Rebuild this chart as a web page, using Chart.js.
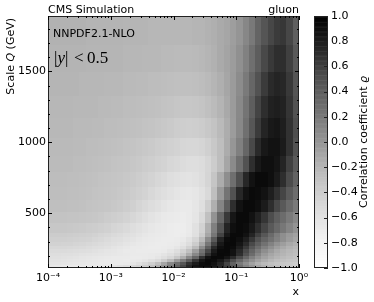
<!DOCTYPE html>
<html>
<head>
<meta charset="utf-8">
<script src="https://cdn.jsdelivr.net/npm/chart.js@4.4.1/dist/chart.umd.min.js"></script>
<style>
  html, body { margin: 0; padding: 0; background: #fff; }
</style>
</head>
<body>
<canvas id="myChart" width="374" height="302"></canvas>
<script>
// bin edges: log10(x) and scale Q in GeV
const logxEdges = [-4.0,-3.9,-3.8,-3.7,-3.6,-3.5,-3.4,-3.3,-3.2,-3.1,
                   -3.0,-2.9,-2.8,-2.7,-2.6,-2.5,-2.4,-2.3,-2.2,-2.1,
                   -2.0,-1.9,-1.8,-1.7,-1.6,-1.5,-1.4,-1.3,-1.2,-1.1,
                   -1.0,-0.9,-0.8,-0.7,-0.6,-0.5,-0.4,-0.3,-0.2,-0.1, 0.0];
const qEdges = [114,133,153,174,196,220,245,272,300,330,362,430,507,592,686,790,905,1032,1172,1327,1497,1684,1890];

// correlation coefficient x100, one row per Q bin (lowest Q first), one value per x bin
const rho = [
  [-65,-66,-67,-68,-68,-68,-68,-67,-66,-64, -62,-59,-55,-50,-46,-40,-30,-17,0,18, 36,56,74,88,92, 91,85,74,60,44, 28,12,0,-10,-18, -24,-29,-33,-36,-39],
  [-62,-62,-63,-64,-65,-66,-67,-67,-68,-68, -68,-68,-67,-64,-58,-50,-42,-28,-10,10, 28,48,68,82,91, 93,88,76,58,38, 20,5,-8,-17,-24, -29,-32,-35,-37,-39],
  [-60,-60,-61,-62,-63,-64,-65,-66,-67,-68, -69,-69,-70,-69,-67,-64,-59,-52,-40,-24, -4,18,42,66,85, 93,92,84,70,52, 34,17,4,-7,-15, -21,-26,-29,-32,-34],
  [-58,-58,-59,-60,-61,-63,-64,-65,-66,-67, -68,-69,-69,-70,-70,-69,-67,-63,-56,-48, -34,-15,10,35,68, 88,94,93,86,72, 54,34,16,2,-8, -15,-20,-24,-27,-30],
  [-55,-55,-56,-57,-58,-60,-61,-62,-63,-64, -65,-66,-67,-68,-68,-68,-67,-66,-62,-56, -48,-34,-15,10,35, 68,88,94,93,88, 70,50,30,12,-2, -10,-16,-20,-24,-27],
  [-52,-52,-52,-53,-54,-55,-57,-59,-61,-63, -64,-66,-68,-69,-70,-70,-70,-70,-68,-63, -55,-44,-28,-5,25, 56,82,93,94,88, 73,55,36,20,6, -4,-12,-18,-22,-25],
  [-48,-48,-48,-49,-50,-51,-53,-55,-57,-59, -62,-64,-66,-68,-69,-70,-71,-71,-70,-68, -64,-56,-44,-24,6, 40,72,90,94,92, 80,64,46,30,16, 5,-5,-12,-18,-22],
  [-44,-44,-45,-45,-46,-47,-49,-51,-53,-55, -58,-60,-63,-65,-67,-69,-70,-71,-71,-70, -68,-63,-54,-38,-12, 22,58,84,94,94, 86,72,55,40,26, 14,3,-5,-12,-17],
  [-41,-41,-41,-42,-43,-44,-45,-47,-49,-52, -55,-57,-60,-62,-65,-67,-69,-70,-71,-71, -70,-67,-60,-47,-24, 8,44,76,92,94, 90,80,65,50,36, 26,15,5,-4,-10],
  [-38,-38,-38,-39,-40,-41,-42,-44,-46,-48, -51,-53,-56,-59,-62,-65,-67,-69,-70,-71, -72,-71,-67,-58,-38, -10,22,58,84,93, 93,88,76,60,46, 32,18,6,-2,-7],
  [-34,-34,-34,-35,-36,-37,-38,-39,-41,-43, -46,-48,-51,-55,-59,-62,-65,-67,-69,-71, -72,-72,-68,-59,-44, -16,16,48,76,90, 93,91,83,70,57, 45,33,22,12,2],
  [-30,-30,-30,-31,-31,-32,-33,-34,-36,-38, -40,-42,-45,-48,-52,-57,-61,-64,-67,-69, -70,-71,-69,-63,-50, -28,2,34,64,85, 93,93,88,78,66, 53,41,30,20,10],
  [-27,-27,-27,-28,-28,-29,-30,-31,-32,-33, -35,-37,-39,-42,-46,-50,-54,-58,-62,-65, -67,-69,-68,-64,-56, -40,-16,12,42,70, 88,93,93,90,82, 70,56,45,32,20],
  [-26,-26,-26,-27,-27,-28,-29,-30,-31,-32, -33,-35,-37,-39,-42,-45,-49,-53,-56,-60, -63,-65,-66,-64,-59, -50,-27,-2,24,50, 74,88,93,92,88, 80,69,57,44,30],
  [-25,-25,-25,-26,-26,-27,-28,-29,-30,-31, -32,-33,-35,-37,-39,-42,-45,-48,-51,-55, -58,-60,-61,-59,-54, -46,-32,-14,6,28, 52,74,88,93,93, 90,82,70,54,38],
  [-24,-24,-24,-24,-25,-25,-26,-27,-28,-29, -30,-31,-32,-34,-36,-38,-40,-43,-45,-48, -50,-53,-55,-55,-53, -47,-38,-26,-10,8, 28,50,70,84,90, 90,86,76,60,44],
  [-23,-23,-23,-23,-24,-24,-25,-25,-26,-27, -28,-29,-30,-31,-33,-35,-37,-39,-41,-43, -45,-47,-48,-48,-46, -42,-35,-26,-14,0, 16,35,55,72,84, 88,88,82,68,50],
  [-22,-22,-22,-22,-23,-23,-23,-24,-24,-25, -25,-26,-27,-28,-29,-30,-31,-33,-35,-37, -39,-40,-41,-40,-38, -35,-30,-23,-15,-4, 10,27,46,63,76, 83,85,80,68,52],
  [-21,-21,-21,-21,-22,-22,-22,-22,-23,-23, -24,-24,-25,-25,-26,-27,-28,-29,-30,-31, -33,-34,-34,-33,-31, -28,-24,-19,-12,-3, 9,24,41,58,70, 78,80,77,66,50],
  [-20,-20,-20,-20,-20,-21,-21,-21,-21,-22, -22,-22,-23,-23,-24,-24,-25,-25,-26,-27, -28,-28,-28,-27,-25, -23,-20,-16,-10,-3, 7,20,35,50,63, 72,76,74,64,48],
  [-19,-19,-19,-19,-19,-19,-20,-20,-20,-20, -20,-20,-21,-21,-21,-22,-22,-22,-23,-23, -24,-24,-24,-23,-22, -20,-17,-13,-9,-4, 4,15,28,42,55, 64,70,70,60,45],
  [-18,-18,-18,-18,-18,-18,-19,-19,-19,-19, -19,-19,-20,-20,-20,-20,-21,-21,-21,-21, -21,-21,-21,-20,-20, -18,-16,-13,-10,-5, 1,11,21,36,48, 56,63,65,56,40]
];

// axis ticks
const xTickExp = [-4, -3, -2, -1, 0];
const xTickLabels = ['10⁻⁴', '10⁻³', '10⁻²', '10⁻¹', '10⁰'];
const yTicks = [500, 1000, 1500];
const cbTicks = [-1.0, -0.8, -0.6, -0.4, -0.2, 0.0, 0.2, 0.4, 0.6, 0.8, 1.0];

// matplotlib "Greys"
const greys = [255, 240, 217, 189, 150, 115, 82, 37, 0];
function grey(v) {
  let t = Math.min(1, Math.max(0, (v + 1) / 2)) * 8;
  let i = Math.min(7, Math.floor(t));
  let g = Math.round(greys[i] + (greys[i + 1] - greys[i]) * (t - i));
  return 'rgb(' + g + ',' + g + ',' + g + ')';
}

const FONT = '"DejaVu Sans", sans-serif';

const heatmap = {
  id: 'heatmap',
  beforeDatasetsDraw(chart) {
    const { ctx, chartArea: a, scales: { x, y } } = chart;
    ctx.save();
    ctx.beginPath();
    ctx.rect(a.left, a.top, a.right - a.left, a.bottom - a.top);
    ctx.clip();
    rho.forEach((row, j) => {
      const yt = Math.round(y.getPixelForValue(qEdges[j + 1]));
      const yb = Math.round(y.getPixelForValue(qEdges[j]));
      row.forEach((v, i) => {
        const x0 = Math.round(x.getPixelForValue(Math.pow(10, logxEdges[i])));
        const x1 = Math.round(x.getPixelForValue(Math.pow(10, logxEdges[i + 1])));
        ctx.fillStyle = grey(v / 100);
        ctx.fillRect(x0, yt, x1 - x0, yb - yt);
      });
    });
    ctx.restore();
  },
  afterDraw(chart) {
    const { ctx, chartArea: a, scales: { x, y, cb } } = chart;
    ctx.save();

    // frame
    ctx.strokeStyle = '#222';
    ctx.lineWidth = 1;
    ctx.strokeRect(a.left + 0.5, a.top + 0.5, a.right - a.left - 1, a.bottom - a.top - 1);

    // ticks inside the frame
    ctx.strokeStyle = '#000';
    ctx.beginPath();
    xTickExp.forEach(e => {
      const px = Math.round(x.getPixelForValue(Math.pow(10, e))) + 0.5;
      ctx.moveTo(px, a.bottom); ctx.lineTo(px, a.bottom - 4);
      ctx.moveTo(px, a.top); ctx.lineTo(px, a.top + 4);
      if (e < 0) {
        for (let m = 2; m < 10; m++) {
          const pm = Math.round(x.getPixelForValue(m * Math.pow(10, e))) + 0.5;
          ctx.moveTo(pm, a.bottom); ctx.lineTo(pm, a.bottom - 2);
          ctx.moveTo(pm, a.top); ctx.lineTo(pm, a.top + 2);
        }
      }
    });
    for (let q = 200; q < 1890; q += 100) {
      const py = Math.round(y.getPixelForValue(q)) + 0.5;
      const len = yTicks.includes(q) ? 4 : 2;
      ctx.moveTo(a.left, py); ctx.lineTo(a.left + len, py);
      ctx.moveTo(a.right, py); ctx.lineTo(a.right - len, py);
    }
    ctx.stroke();

    // colour bar
    const cbL = a.right + 15, cbW = 14;
    for (let k = 0; k < 200; k++) {
      const v = -1 + k / 100;
      const y0 = cb.getPixelForValue(v), y1 = cb.getPixelForValue(v + 0.01);
      ctx.fillStyle = grey(v + 0.005);
      ctx.fillRect(cbL, y1, cbW, y0 - y1 + 0.5);
    }
    ctx.strokeStyle = '#222';
    ctx.strokeRect(cbL + 0.5, a.top + 0.5, cbW - 1, a.bottom - a.top - 1);
    ctx.beginPath();
    cbTicks.forEach(v => {
      const py = Math.round(cb.getPixelForValue(v)) + 0.5;
      ctx.moveTo(cbL + cbW - 4, py); ctx.lineTo(cbL + cbW, py);
    });
    ctx.stroke();

    // texts
    ctx.fillStyle = '#000';
    ctx.textBaseline = 'alphabetic';
    ctx.font = '11px ' + FONT;
    ctx.textAlign = 'left';
    ctx.fillText('CMS Simulation', a.left, 13);
    ctx.fillText('NNPDF2.1-NLO', a.left + 5, 37);
    ctx.textAlign = 'right';
    ctx.fillText('gluon', a.right, 13);
    ctx.fillText('x', a.right, 295);

    // |y| < 0.5
    ctx.textAlign = 'left';
    const serif = '17px "Liberation Serif", serif';
    ctx.font = serif;
    ctx.fillText('|', 54, 63);
    let w = ctx.measureText('|').width;
    ctx.font = 'italic ' + serif;
    ctx.fillText('y', 54 + w, 63);
    const wy = ctx.measureText('y').width;
    ctx.font = serif;
    ctx.fillText('|', 54 + w + wy, 63);
    ctx.fillText('<', 74, 63);
    ctx.fillText('0.5', 87, 63);

    // rotated axis titles
    function rotated(parts, bx, by, align) {
      let tw = 0;
      parts.forEach(p => { ctx.font = p[1]; tw += ctx.measureText(p[0]).width; });
      ctx.save();
      ctx.translate(bx, by);
      ctx.rotate(-Math.PI / 2);
      let cx = align === 'end' ? -tw : -tw / 2;
      ctx.textAlign = 'left';
      parts.forEach(p => { ctx.font = p[1]; ctx.fillText(p[0], cx, 0); cx += ctx.measureText(p[0]).width; });
      ctx.restore();
    }
    const f = '11px ' + FONT, fi = 'italic 11px ' + FONT;
    rotated([['Scale ', f], ['Q', fi], [' (GeV)', f]], 14, 18, 'end');
    rotated([['Correlation coefficient ', f], ['ϱ', fi]], 367, (a.top + a.bottom) / 2, 'center');

    ctx.restore();
  }
};

Chart.defaults.font.family = FONT;
Chart.defaults.font.size = 11;
Chart.defaults.color = '#000';

new Chart(document.getElementById('myChart'), {
  type: 'scatter',
  data: { datasets: [] },
  options: {
    responsive: false,
    animation: false,
    events: [],
    layout: { autoPadding: false, padding: { top: 16, left: 0, right: 0, bottom: 0 } },
    plugins: { legend: { display: false }, tooltip: { enabled: false } },
    scales: {
      x: {
        type: 'logarithmic',
        position: 'bottom',
        min: 1e-4,
        max: 1,
        grid: { display: false, drawTicks: false },
        border: { display: false },
        afterBuildTicks: s => { s.ticks = xTickExp.map(e => ({ value: Math.pow(10, e) })); },
        afterFit: s => { s.height = 34; },
        ticks: { padding: 4, maxRotation: 0, autoSkip: false, callback: (v, i) => xTickLabels[i] }
      },
      y: {
        type: 'linear',
        position: 'left',
        min: 114,
        max: 1890,
        grid: { display: false, drawTicks: false },
        border: { display: false },
        afterBuildTicks: s => { s.ticks = yTicks.map(v => ({ value: v })); },
        afterFit: s => { s.width = 48; },
        ticks: { padding: 2, callback: v => String(v) }
      },
      cb: {
        type: 'linear',
        position: 'right',
        min: -1,
        max: 1,
        grid: { display: false, drawTicks: true, tickLength: 30 },
        border: { display: false },
        afterBuildTicks: s => { s.ticks = cbTicks.map(v => ({ value: v })); },
        afterFit: s => { s.width = 75; },
        ticks: { padding: 2, callback: v => (v < -1e-9 ? '−' : '') + Math.abs(v).toFixed(1) }
      }
    }
  },
  plugins: [heatmap]
});
</script>
</body>
</html>
